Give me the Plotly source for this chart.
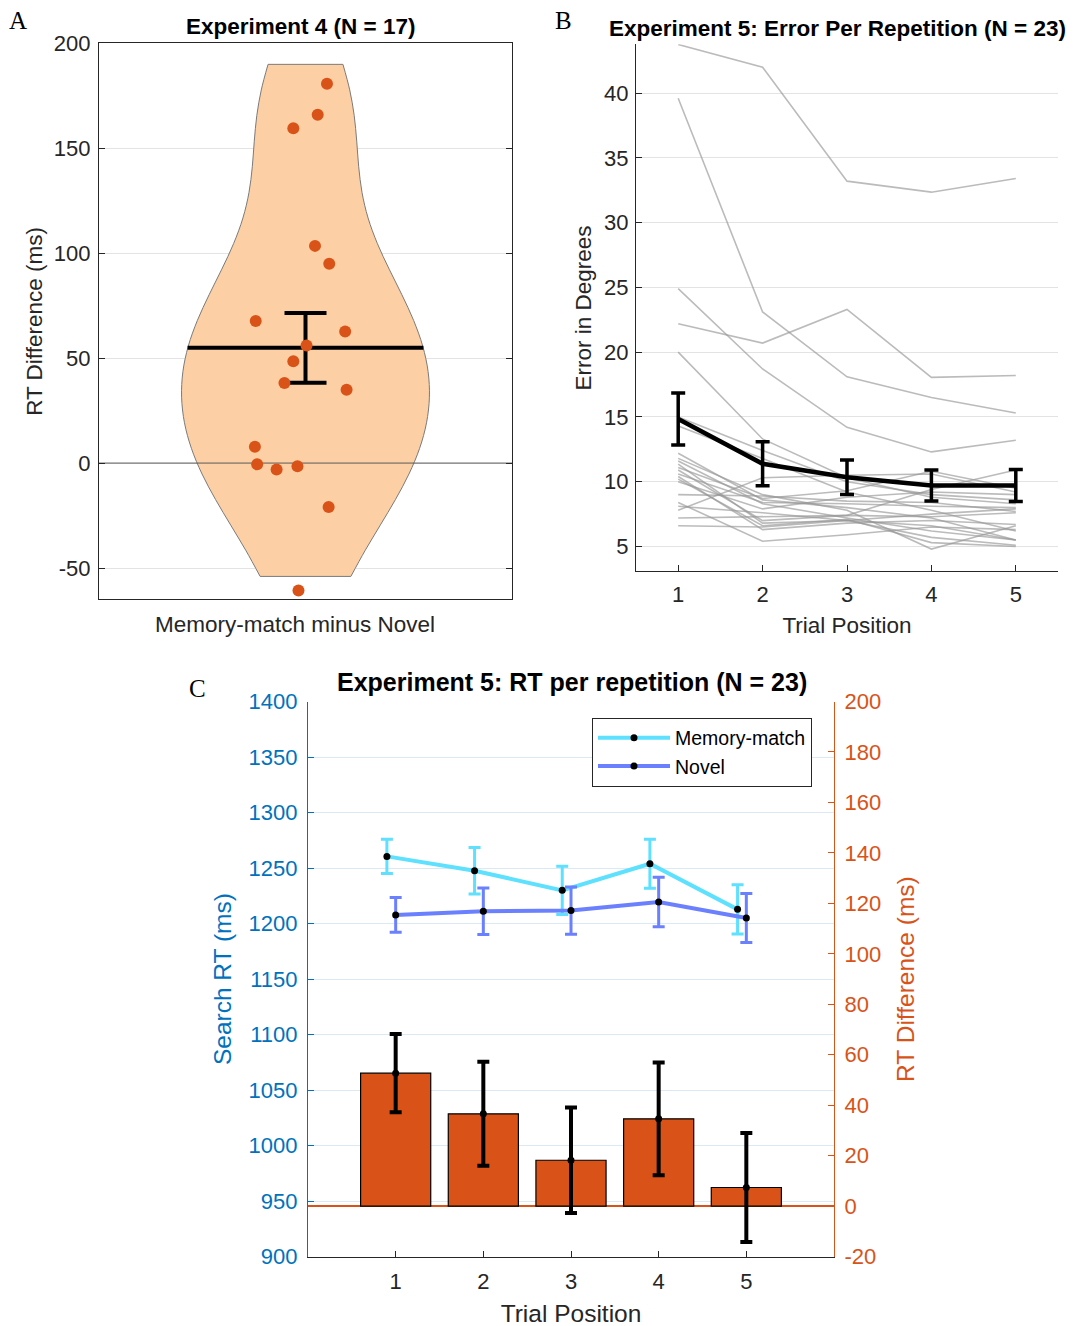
import plotly.graph_objects as go
import numpy as np

# The page body has an 8px default margin; map reference pixels accordingly
# (with a small vertical calibration measured from earlier renders).
OFF = 8
W, H = 1067, 1332


def fx(p):
    return (p - OFF) / W


def fy(p):
    page = (p - 11.8) / 0.981
    return 1 - (page - OFF) / H


FONT = "Liberation Sans, Arial, Helvetica, sans-serif"
SERIF = "Liberation Serif, Times New Roman, serif"
DARK = "#262626"
ORANGE = "#D95319"
BLUE = "#0072BD"
CYAN = "#5EE0FF"
NOVEL_C = "#6B80FF"

# ---------------- Panel A data ----------------
A_VALUES = [180.8, 166.0, 159.5, 103.5, 95.0, 67.7, 62.7, 56.0, 48.5, 38.2,
            34.9, 7.75, -0.6, -3.1, -1.5, -20.9, -60.7]
A_JITTER = [0.104, 0.059, -0.059, 0.046, 0.115, -0.241, 0.192, 0.005, -0.059,
            -0.102, 0.199, -0.245, -0.234, -0.140, -0.039, 0.112, -0.034]
A_CATEGORY = "Memory-match minus Novel"
A_YTICKS = [-50, 0, 50, 100, 150, 200]

# ---------------- Panel B data ----------------
B_POSITIONS = [1, 2, 3, 4, 5]
B_SUBJECTS = [
    [43.75, 42.0, 33.2, 32.35, 33.4],
    [39.6, 23.1, 18.1, 16.5, 15.3],
    [24.9, 18.7, 14.2, 12.3, 13.2],
    [22.2, 20.7, 23.3, 18.05, 18.2],
    [20.0, 13.3, 10.3, 8.8, 8.3],
    [15.0, 12.4, 10.0, 9.0, 8.6],
    [14.3, 11.8, 9.2, 7.8, 6.2],
    [12.2, 8.6, 8.0, 7.2, 5.5],
    [11.6, 8.3, 7.2, 6.2, 5.5],
    [11.35, 6.8, 7.0, 5.7, 5.1],
    [11.1, 8.7, 9.3, 10.8, 9.5],
    [10.9, 7.0, 7.4, 9.4, 10.9],
    [10.6, 8.4, 8.3, 8.1, 8.0],
    [10.4, 6.3, 6.8, 7.0, 6.7],
    [10.2, 6.6, 7.1, 5.3, 5.0],
    [9.0, 8.9, 8.5, 8.4, 7.7],
    [7.8, 10.3, 10.5, 10.6, 9.2],
    [8.1, 7.6, 7.0, 7.5, 7.9],
    [7.2, 7.3, 7.4, 7.3, 7.6],
    [6.6, 6.5, 7.0, 6.6, 5.5],
    [8.4, 5.4, 5.9, 6.5, 6.3],
    [11.8, 9.0, 7.8, 4.8, 6.6],
    [10.0, 7.9, 8.8, 9.2, 9.0],
]
B_MEAN = [14.84, 11.38, 10.35, 9.71, 9.71]
B_SEM = [2.0, 1.7, 1.33, 1.2, 1.23]
B_YTICKS = [5, 10, 15, 20, 25, 30, 35, 40]

# ---------------- Panel C data ----------------
C_POSITIONS = [1, 2, 3, 4, 5]
C_MM = [1260.5, 1247.6, 1229.9, 1253.9, 1212.8]
C_MM_SEM = [15.5, 21.0, 21.7, 22.0, 22.2]
C_NOVEL = [1207.8, 1211.1, 1211.7, 1219.5, 1205.0]
C_NOVEL_SEM = [15.6, 21.0, 21.3, 22.3, 22.0]
C_DIFF = [52.7, 36.6, 18.2, 34.6, 7.4]
C_DIFF_SEM = [15.5, 20.6, 20.9, 22.3, 21.6]
C_LEFT_TICKS = list(range(900, 1401, 50))
C_RIGHT_TICKS = list(range(-20, 201, 20))

fig = go.Figure()

# ---------------- Panel A ----------------
a_mean = float(np.mean(A_VALUES))
a_sem = float(np.std(A_VALUES, ddof=1) / np.sqrt(len(A_VALUES)))

fig.add_trace(go.Violin(
    y=A_VALUES, x0=0, width=1.2, side="both", bandwidth=37,
    spanmode="manual", span=[-54, 190], scalemode="width",
    fillcolor="#FCD0A4", line=dict(color="#7a7a7a", width=1),
    points=False, box_visible=False, meanline_visible=False,
    opacity=1, showlegend=False, hoverinfo="skip",
    xaxis="x", yaxis="y"))
fig.add_trace(go.Scatter(x=[-1, 1], y=[0, 0], mode="lines",
                         line=dict(color="#5a5a5a", width=1),
                         showlegend=False, hoverinfo="skip", xaxis="x", yaxis="y"))
fig.add_trace(go.Scatter(x=[-0.571, 0.571], y=[a_mean, a_mean], mode="lines",
                         line=dict(color="black", width=4),
                         showlegend=False, hoverinfo="skip", xaxis="x", yaxis="y"))
fig.add_trace(go.Scatter(x=[0], y=[a_mean], mode="markers",
                         marker=dict(size=1, color="black"),
                         error_y=dict(type="data", array=[a_sem], color="black",
                                      thickness=4, width=21),
                         showlegend=False, hoverinfo="skip", xaxis="x", yaxis="y"))
fig.add_trace(go.Scatter(x=A_JITTER, y=A_VALUES, mode="markers",
                         marker=dict(size=12, color=ORANGE),
                         showlegend=False, hoverinfo="skip", xaxis="x", yaxis="y"))

# ---------------- Panel B ----------------
for subj in B_SUBJECTS:
    fig.add_trace(go.Scatter(x=B_POSITIONS, y=subj, mode="lines",
                             line=dict(color="rgba(150,150,150,0.65)", width=1.6),
                             showlegend=False, hoverinfo="skip",
                             xaxis="x2", yaxis="y2"))
fig.add_trace(go.Scatter(x=B_POSITIONS, y=B_MEAN, mode="lines",
                         line=dict(color="black", width=4.5),
                         error_y=dict(type="data", array=B_SEM, color="black",
                                      thickness=3.5, width=7),
                         showlegend=False, hoverinfo="skip",
                         xaxis="x2", yaxis="y2"))

# ---------------- Panel C ----------------
fig.add_trace(go.Bar(x=C_POSITIONS, y=C_DIFF, width=0.8,
                     marker=dict(color=ORANGE, line=dict(color="black", width=1.2)),
                     showlegend=False, hoverinfo="skip",
                     xaxis="x3", yaxis="y4"))
fig.add_trace(go.Scatter(x=C_POSITIONS, y=C_DIFF, mode="markers",
                         marker=dict(size=7, color="black"),
                         error_y=dict(type="data", array=C_DIFF_SEM, color="black",
                                      thickness=4, width=6),
                         showlegend=False, hoverinfo="skip",
                         xaxis="x3", yaxis="y4"))
fig.add_trace(go.Scatter(x=[p - 0.1 for p in C_POSITIONS], y=C_MM,
                         mode="lines+markers", name="Memory-match",
                         line=dict(color=CYAN, width=4),
                         marker=dict(size=7, color="black"),
                         error_y=dict(type="data", array=C_MM_SEM, color=CYAN,
                                      thickness=3, width=6),
                         hoverinfo="skip", xaxis="x3", yaxis="y3"))
fig.add_trace(go.Scatter(x=C_POSITIONS, y=C_NOVEL,
                         mode="lines+markers", name="Novel",
                         line=dict(color=NOVEL_C, width=4),
                         marker=dict(size=7, color="black"),
                         error_y=dict(type="data", array=C_NOVEL_SEM, color=NOVEL_C,
                                      thickness=3, width=6),
                         hoverinfo="skip", xaxis="x3", yaxis="y3"))

tickfont = dict(family=FONT, size=22, color=DARK)
titlefont = dict(family=FONT, size=22.5, color=DARK)


def labels(vals):
    return [str(v) for v in vals]


layout = dict(
    width=W, height=H, autosize=False,
    margin=dict(l=0, r=0, t=0, b=0),
    paper_bgcolor="white", plot_bgcolor="white",
    font=dict(family=FONT, color=DARK),
    # Panel A
    xaxis=dict(domain=[fx(99), fx(512)], range=[-1, 1], type="linear",
               showgrid=False, zeroline=False, showticklabels=False, ticks="",
               showline=True, linecolor=DARK, linewidth=1.2, mirror=True,
               anchor="y"),
    yaxis=dict(domain=[fy(599), fy(43)], range=[-65, 200],
               tickvals=A_YTICKS, ticktext=labels(A_YTICKS),
               showgrid=True, gridcolor="#e3e3e3", gridwidth=1, zeroline=False,
               ticks="inside", ticklen=6, tickcolor=DARK, ticklabelstandoff=3,
               showline=True, linecolor=DARK, linewidth=1.2, mirror="ticks",
               tickfont=tickfont,
               title=dict(text="RT Difference (ms)", font=titlefont, standoff=4),
               anchor="x"),
    # Panel B
    xaxis2=dict(domain=[fx(636), fx(1058)], range=[0.5, 5.5],
                tickvals=B_POSITIONS, ticktext=labels(B_POSITIONS),
                showgrid=False, zeroline=False, ticks="inside", ticklen=6,
                tickcolor=DARK, ticklabelstandoff=3,
                showline=True, linecolor=DARK, linewidth=1.2,
                tickfont=tickfont,
                title=dict(text="Trial Position", font=titlefont, standoff=11),
                anchor="y2"),
    yaxis2=dict(domain=[fy(571), fy(44)], range=[3.07, 43.76],
                tickvals=B_YTICKS, ticktext=labels(B_YTICKS),
                showgrid=True, gridcolor="#e3e3e3", gridwidth=1, zeroline=False,
                ticks="inside", ticklen=6, tickcolor=DARK, ticklabelstandoff=2,
                showline=True, linecolor=DARK, linewidth=1.2,
                tickfont=tickfont,
                title=dict(text="Error in Degrees", font=titlefont, standoff=6),
                anchor="x2"),
    # Panel C
    xaxis3=dict(domain=[fx(308), fx(834)], range=[0, 6],
                tickvals=C_POSITIONS, ticktext=labels(C_POSITIONS),
                showgrid=False, zeroline=False, ticks="inside", ticklen=6,
                tickcolor=DARK, ticklabelstandoff=5,
                showline=True, linecolor=DARK, linewidth=1.2,
                tickfont=tickfont,
                title=dict(text="Trial Position", font=dict(family=FONT, size=24.5, color=DARK),
                           standoff=11),
                anchor="y3"),
    yaxis3=dict(domain=[fy(1256), fy(701)], range=[900, 1400],
                tickvals=C_LEFT_TICKS, ticktext=labels(C_LEFT_TICKS),
                showgrid=True, gridcolor="#dbe9f4", gridwidth=1, zeroline=False,
                ticks="inside", ticklen=6, tickcolor=BLUE, ticklabelstandoff=5,
                showline=True, linecolor=BLUE, linewidth=1.2,
                tickfont=dict(family=FONT, size=22, color=BLUE),
                title=dict(text="Search RT (ms)", font=dict(family=FONT, size=24.5, color=BLUE),
                           standoff=9),
                anchor="x3"),
    yaxis4=dict(domain=[fy(1256), fy(701)], range=[-20, 200],
                tickvals=C_RIGHT_TICKS, ticktext=labels(C_RIGHT_TICKS),
                overlaying="y3", side="right", anchor="x3",
                showgrid=False, zeroline=True, zerolinecolor=ORANGE, zerolinewidth=1.5,
                ticks="inside", ticklen=6, tickcolor=ORANGE, ticklabelstandoff=5,
                showline=True, linecolor=ORANGE, linewidth=1.2,
                tickfont=dict(family=FONT, size=22, color=ORANGE),
                title=dict(text="RT Difference (ms)", font=dict(family=FONT, size=24.5, color=ORANGE),
                           standoff=16)),
    showlegend=True,
    legend=dict(x=fx(592), y=fy(717), xanchor="left", yanchor="top",
                bgcolor="white", bordercolor=DARK, borderwidth=1,
                font=dict(family=FONT, size=19.5, color="black"),
                itemwidth=72, tracegroupgap=0),
)

annotations = [
    dict(text="<b>Experiment 4 (N = 17)</b>", x=fx(300), y=fy(26),
         font=dict(family=FONT, size=22.5, color="black")),
    dict(text="<b>Experiment 5: Error Per Repetition (N = 23)</b>", x=fx(837), y=fy(28),
         font=dict(family=FONT, size=22.5, color="black")),
    dict(text="<b>Experiment 5: RT per repetition (N = 23)</b>", x=fx(572), y=fy(681),
         font=dict(family=FONT, size=25, color="black")),
    dict(text=A_CATEGORY, x=fx(295), y=fy(624),
         font=dict(family=FONT, size=22.5, color=DARK)),
    dict(text="A", x=fx(18), y=fy(20), font=dict(family=SERIF, size=25, color="black")),
    dict(text="B", x=fx(563), y=fy(20), font=dict(family=SERIF, size=25, color="black")),
    dict(text="C", x=fx(197), y=fy(688), font=dict(family=SERIF, size=25, color="black")),
]
for a in annotations:
    a.update(xref="paper", yref="paper", showarrow=False,
             xanchor="center", yanchor="middle")
layout["annotations"] = annotations

fig.update_layout(**layout)
fig.write_html("out.html")
